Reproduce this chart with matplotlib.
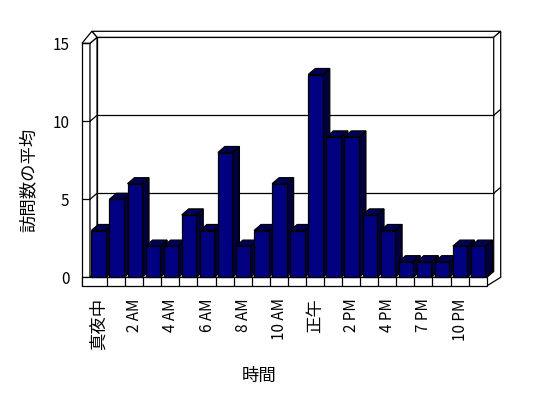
import numpy as np
import matplotlib
matplotlib.use('Agg')
import matplotlib.pyplot as plt
from matplotlib.patches import Polygon

plt.rcParams['font.family'] = ['Noto Sans CJK JP', 'DejaVu Sans']

# data
hours = ['真夜中', '1 AM', '2 AM', '3 AM', '4 AM', '5 AM', '6 AM', '7 AM', '8 AM', '9 AM',
         '10 AM', '11 AM', '正午', '1 PM', '2 PM', '3 PM', '4 PM', '6 PM', '7 PM', '9 PM',
         '10 PM', '11 PM']
visits = [3, 5, 6, 2, 2, 4, 3, 8, 2, 3, 6, 3, 13, 9, 9, 4, 3, 1, 1, 1, 2, 2]
y_ticks = [0, 5, 10, 15]

W, H = 548, 398
fig = plt.figure(figsize=(W / 100, H / 100), dpi=100)

# plot area in pixels (front plane)
x0px, x1px, y0px, y1px = 89, 486.7, 277.3, 43.3
ax = fig.add_axes([x0px / W, (H - y0px) / H, (x1px - x0px) / W, (y0px - y1px) / H])
n = len(visits)
ax.set_xlim(-0.5, n - 0.5)
ax.set_ylim(0, 15)
for s in ax.spines.values():
    s.set_visible(False)

ux = (x1px - x0px) / n      # pixels per category
uy = (y0px - y1px) / 15     # pixels per unit
ddx, ddy = 7 / ux, 6 / uy   # depth offset
xr = n - 0.5
xL = -0.5 + 1 / ux
xO = -0.5 - 7 / ux
ft = 8.7 / uy
top = 15

lw = 0.9


def poly(pts, fc, z):
    ax.add_patch(Polygon(pts, closed=True, facecolor=fc, edgecolor='black',
                         linewidth=lw, zorder=z, clip_on=False))


def line(xs, ys, z=3):
    ax.plot(xs, ys, color='black', linewidth=lw, zorder=z, clip_on=False,
            solid_capstyle='butt')


# back wall (inner face)
poly([(xL + ddx, ddy), (xr + ddx, ddy), (xr + ddx, top + ddy), (xL + ddx, top + ddy)], 'white', 1)
# back wall thickness top / right
poly([(xL + ddx, top + ddy), (xr + ddx, top + ddy), (xr + 2 * ddx, top + 2 * ddy),
      (xO + 1.4 * ddx, top + 2 * ddy)], 'white', 1)
poly([(xr + ddx, ddy), (xr + ddx, top + ddy), (xr + 2 * ddx, top + 2 * ddy),
      (xr + 2 * ddx, 0), (xr, -ft), (xr, 0)], 'white', 1)
# left wall
poly([(xO, -ft), (xO, top), (xL, top), (xL, 0)], 'white', 1)
poly([(xL, 0), (xL, top), (xL + ddx, top + ddy), (xL + ddx, ddy)], 'white', 1)
poly([(xO, top), (xL, top), (xL + ddx, top + ddy), (xO + 1.4 * ddx, top + 2 * ddy)], 'white', 1)

# gridlines
for v in y_ticks[1:-1]:
    line([xL + ddx, xr + ddx], [v + ddy, v + ddy], 2)
    line([xL, xL + ddx], [v, v + ddy], 2)
    line([xr + ddx, xr + 2 * ddx], [v + ddy, v + 2 * ddy], 2)
for v in y_ticks:
    line([xO, xL], [v, v], 2)

# floor
poly([(xL, 0), (xr, 0), (xr + ddx, ddy), (xL + ddx, ddy)], 'white', 2)
poly([(xO, -ft), (xr, -ft), (xr, 0), (xO, 0)], 'white', 2)
for k in range(1, n):
    line([k - 0.5, k - 0.5], [-ft, 0], 3)

# bars
bw = 14.5 / ux
front = '#000080'
side = '#00003c'
topc = '#000058'
for i, v in enumerate(visits):
    l = i - 0.37
    r = l + bw
    z = 4 + i * 0.01
    poly([(r, 0), (r, v), (r + ddx, v + ddy), (r + ddx, ddy)], side, z)
    poly([(l, v), (r, v), (r + ddx, v + ddy), (l + ddx, v + ddy)], topc, z)
    ax.bar(l, v, width=bw, align='edge', color=front, edgecolor='black',
           linewidth=lw, zorder=z + 0.005, clip_on=False)

# ticks
tick_pos = [i - 0.37 + bw / 2 for i in range(0, n, 2)]
ax.set_xticks(tick_pos, [hours[i] for i in range(0, n, 2)], rotation=90, fontsize=11)
ax.set_yticks(y_ticks, [str(t) for t in y_ticks], fontsize=11)
ax.tick_params(axis='x', length=0, pad=15)
ax.tick_params(axis='y', length=0, pad=14)
for lab in ax.get_xticklabels():
    lab.set_verticalalignment('top')
    if not lab.get_text()[0].isdigit():
        lab.set_fontsize(12.5)
for lab in ax.get_yticklabels():
    lab.set_verticalalignment('center_baseline')

fig.text(28.5 / W, 1 - 180 / H, '訪問数の平均', rotation=90, fontsize=12.5,
         ha='center', va='center')
fig.text(259 / W, 1 - 376 / H, '時間', fontsize=12.5, ha='center', va='center')

fig.savefig('out.png', dpi=100)
